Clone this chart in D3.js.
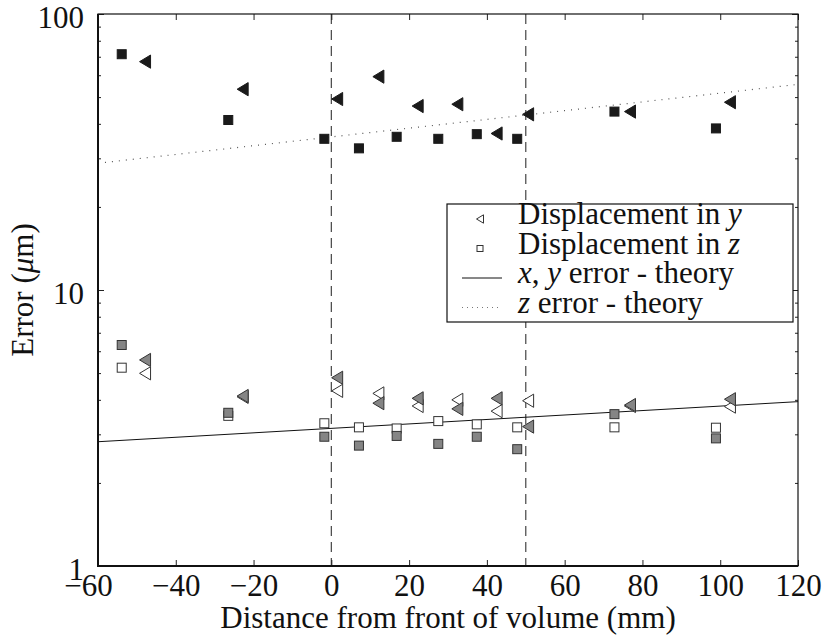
<!DOCTYPE html>
<html>
<head>
<meta charset="utf-8">
<script src="https://cdn.jsdelivr.net/npm/d3@7"></script>
<style>
  body { margin: 0; background: #fff; }
  svg { display: block; }
  text { font-family: "Liberation Serif", "DejaVu Serif", serif; fill: #111; }
</style>
</head>
<body>
<div id="chart"></div>
<script>
// 位置 (mm)
const squareX = [-53.9, -26.5, -1.8, 7.1, 16.8, 27.5, 37.4, 47.8, 72.8, 98.9];
const triX    = [-47.9, -22.8, 1.5, 12.1, 22.2, 32.4, 42.5, 50.6, 76.8, 102.5];

// 误差 (μm) - 上方黑色组
const zBlack = [71.5, 41.3, 35.3, 32.6, 35.9, 35.3, 36.7, 35.3, 44.3, 38.5];
const yBlack = [67.2, 53.4, 49.2, 59.3, 46.4, 47.1, 36.9, 43.3, 44.3, 47.9];
// 下方灰色 / 空心组
const zGrey = [6.32, 3.59, 2.94, 2.73, 2.96, 2.77, 2.94, 2.65, 3.55, 2.90];
const zOpen = [5.23, 3.50, 3.29, 3.18, 3.15, 3.35, 3.26, 3.18, 3.18, 3.17];
const yGrey = [5.58, 4.13, 4.81, 3.89, 4.05, 3.71, 4.05, 3.20, 3.83, 4.02];
const yOpen = [4.99, 4.10, 4.31, 4.22, 3.80, 4.00, 3.64, 3.97, 3.80, 3.78];

// 理论曲线
const xyTheory = [[-60, 2.82], [120, 3.94]];
const zTheory  = [[-60, 28.8], [120, 55.6]];

const vLines = [0, 50];
const xTicks = [-60, -40, -20, 0, 20, 40, 60, 80, 100, 120];
const yMajor = [1, 10, 100];
const yMinor = [2, 3, 4, 5, 6, 7, 8, 9, 20, 30, 40, 50, 60, 70, 80, 90];

const legendItems = [
    { kind: "tri",    parts: [["Displacement in ", false], ["y", true]] },
    { kind: "square", parts: [["Displacement in ", false], ["z", true]] },
    { kind: "solid",  parts: [["x", true], [", ", false], ["y", true], [" error - theory", false]] },
    { kind: "dotted", parts: [["z", true], [" error - theory", false]] }
];

const width = 823, height = 638;
const margin = { top: 14, right: 25, bottom: 72, left: 98 };
const innerW = width - margin.left - margin.right;
const innerH = height - margin.top - margin.bottom;
const FS = 31;

const svg = d3.select("#chart").append("svg").attr("width", width).attr("height", height);
const g = svg.append("g").attr("transform", `translate(${margin.left},${margin.top})`);

const x = d3.scaleLinear().domain([-60, 120]).range([0, innerW]);
const y = d3.scaleLog().domain([1, 100]).range([innerH, 0]);

const triPath = s => `M${-s * 0.5},0L${s * 0.5},${-s * 0.6}L${s * 0.5},${s * 0.6}Z`;

// 垂直虚线
g.selectAll(".vline").data(vLines).enter().append("line")
    .attr("x1", d => x(d)).attr("x2", d => x(d))
    .attr("y1", 0).attr("y2", innerH)
    .attr("stroke", "#444").attr("stroke-width", 1.2).attr("stroke-dasharray", "10,6");

// 理论线
const line = d3.line().x(d => x(d[0])).y(d => y(d[1]));
g.append("path").datum(xyTheory).attr("d", line)
    .attr("fill", "none").attr("stroke", "#111").attr("stroke-width", 1);
g.append("path").datum(zTheory).attr("d", line)
    .attr("fill", "none").attr("stroke", "#555").attr("stroke-width", 1.2)
    .attr("stroke-dasharray", "1,6");

// 数据点
function squares(vals, fill, stroke) {
    g.append("g").selectAll("rect").data(vals).enter().append("rect")
        .attr("x", (d, i) => x(squareX[i]) - 4.5).attr("y", d => y(d) - 4.5)
        .attr("width", 9).attr("height", 9)
        .attr("fill", fill).attr("stroke", stroke).attr("stroke-width", 1);
}
function triangles(vals, fill, stroke) {
    g.append("g").selectAll("path").data(vals).enter().append("path")
        .attr("transform", (d, i) => `translate(${x(triX[i])},${y(d)})`)
        .attr("d", triPath(11))
        .attr("fill", fill).attr("stroke", stroke).attr("stroke-width", 1);
}
squares(zOpen, "#fff", "#333");
squares(zGrey, "#858585", "#333");
triangles(yOpen, "#fff", "#333");
triangles(yGrey, "#858585", "#333");
squares(zBlack, "#1a1a1a", "#1a1a1a");
triangles(yBlack, "#1a1a1a", "#1a1a1a");

// 坐标轴 (刻度朝内)
const xAxis = g.append("g").attr("transform", `translate(0,${innerH})`)
    .call(d3.axisBottom(x).tickValues(xTicks).tickSize(-6).tickFormat(d3.format("d")));
xAxis.selectAll("text").attr("y", 30).attr("dy", null).style("font-size", FS + "px")
    .attr("dx", d => d === -60 ? -10 : 0);   // 左下角 -60 稍微左移, 与原图一致
g.append("g").call(d3.axisTop(x).tickValues(xTicks).tickSize(-6).tickFormat(""));

const yAxis = g.append("g")
    .call(d3.axisLeft(y).tickValues(yMajor).tickSize(-6).tickFormat(d3.format("d")));
yAxis.selectAll("text").attr("x", -14).attr("dy", null).attr("y", 13).style("font-size", FS + "px");
g.append("g").call(d3.axisLeft(y).tickValues(yMinor).tickSize(-3).tickFormat(""));
g.append("g").attr("transform", `translate(${innerW},0)`)
    .call(d3.axisRight(y).tickValues(yMajor).tickSize(-6).tickFormat(""));
g.append("g").attr("transform", `translate(${innerW},0)`)
    .call(d3.axisRight(y).tickValues(yMinor).tickSize(-3).tickFormat(""));

g.selectAll(".domain").remove();
g.selectAll(".tick line").attr("stroke", "#222");

// 边框
g.append("rect").attr("width", innerW).attr("height", innerH)
    .attr("fill", "none").attr("stroke", "#111").attr("stroke-width", 1.2);
g.append("path").attr("d", `M0,0V${innerH}H${innerW}`)
    .attr("fill", "none").attr("stroke", "#111").attr("stroke-width", 2);

// 轴标题
svg.append("text").attr("x", margin.left + innerW / 2).attr("y", 628)
    .attr("text-anchor", "middle").style("font-size", FS + "px")
    .text("Distance from front of volume (mm)");
const yl = svg.append("text")
    .attr("transform", `translate(33,${margin.top + innerH / 2}) rotate(-90)`)
    .attr("text-anchor", "middle").style("font-size", FS + "px");
yl.append("tspan").text("Error (");
yl.append("tspan").style("font-style", "italic").text("μ");
yl.append("tspan").text("m)");

// 图例
const lg = svg.append("g").attr("transform", "translate(447,204)");
lg.append("rect").attr("width", 346).attr("height", 118)
    .attr("fill", "#fff").attr("stroke", "#111").attr("stroke-width", 1.2);
legendItems.forEach((it, i) => {
    const base = 20 + i * 29.5;
    const cy = base - 5;
    const row = lg.append("g");
    if (it.kind === "tri") {
        row.append("path").attr("transform", `translate(33,${cy})`).attr("d", triPath(7))
            .attr("fill", "#fff").attr("stroke", "#333");
    } else if (it.kind === "square") {
        row.append("rect").attr("x", 30).attr("y", cy - 3).attr("width", 6).attr("height", 6)
            .attr("fill", "#fff").attr("stroke", "#333");
    } else {
        row.append("line").attr("x1", 15).attr("x2", 55).attr("y1", cy).attr("y2", cy)
            .attr("stroke", it.kind === "solid" ? "#111" : "#777").attr("stroke-width", 1)
            .attr("stroke-dasharray", it.kind === "solid" ? null : "1,4");
    }
    const t = row.append("text").attr("x", 71).attr("y", base).style("font-size", FS + "px");
    it.parts.forEach(([s, ital]) => {
        t.append("tspan").style("font-style", ital ? "italic" : "normal").text(s);
    });
});
</script>
</body>
</html>
